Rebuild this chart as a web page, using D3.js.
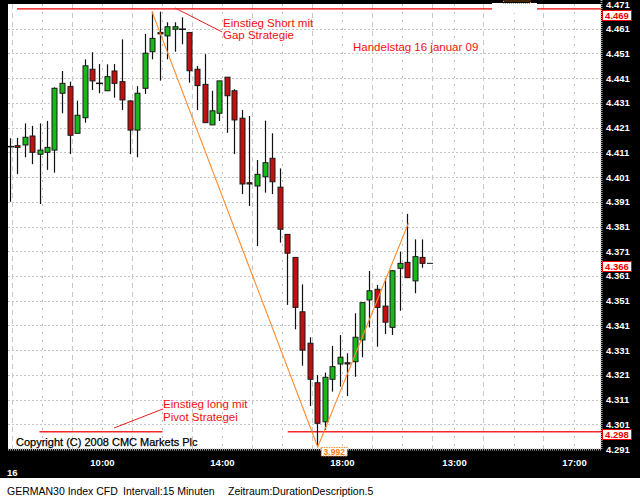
<!DOCTYPE html>
<html>
<head>
<meta charset="utf-8">
<script src="https://cdn.jsdelivr.net/npm/d3@7"></script>
<style>
  html, body { margin: 0; padding: 0; background: #fff; }
  #chart { width: 640px; height: 500px; }
</style>
</head>
<body>
<div id="chart"></div>
<script>
// candle data, 15 minute bars
const opens  = [4.4133, 4.4137, 4.4140, 4.4176, 4.4102, 4.4110, 4.4119, 4.4349, 4.4376, 4.4187,
                4.4250, 4.4446, 4.4389, 4.4359, 4.4439, 4.4396, 4.4318, 4.4200, 4.4369, 4.4517,
                4.4595, 4.4581, 4.4608, 4.4608, 4.4595, 4.4446, 4.4385, 4.4221, 4.4268, 4.4414,
                4.4359, 4.4248, 4.3987, 4.3974, 4.4011, 4.4086, 4.3969, 4.3778, 4.3685, 4.3465,
                4.3338, 4.3178, 4.3020, 4.3192, 4.3254, 4.3259, 4.3263, 4.3351, 4.3513, 4.3556,
                4.3488, 4.3402, 4.3641, 4.3665, 4.3590, 4.3685];
const highs  = [4.4167, 4.4168, 4.4227, 4.4217, 4.4227, 4.4237, 4.4373, 4.4439, 4.4396, 4.4319,
                4.4486, 4.4515, 4.4467, 4.4466, 4.4467, 4.4567, 4.4320, 4.4378, 4.4589, 4.4679,
                4.4679, 4.4636, 4.4636, 4.4656, 4.4595, 4.4459, 4.4507, 4.4359, 4.4399, 4.4414,
                4.4365, 4.4281, 4.4257, 4.4079, 4.4238, 4.4187, 4.4045, 4.3778, 4.3685, 4.3576,
                4.3362, 4.3209, 4.3219, 4.3327, 4.3371, 4.3297, 4.3459, 4.3502, 4.3630, 4.3573,
                4.3600, 4.3634, 4.3708, 4.3861, 4.3758, 4.3758];
const lows   = [4.3910, 4.4022, 4.4090, 4.4062, 4.3901, 4.4039, 4.4028, 4.4268, 4.4103, 4.4187,
                4.4230, 4.4362, 4.4349, 4.4359, 4.4331, 4.4281, 4.4103, 4.4090, 4.4346, 4.4486,
                4.4400, 4.4486, 4.4517, 4.4547, 4.4392, 4.4281, 4.4230, 4.4221, 4.4237, 4.4189,
                4.4103, 4.3941, 4.3893, 4.3731, 4.3947, 4.3941, 4.3745, 4.3493, 4.3394, 4.3247,
                4.3084, 4.2926, 4.2987, 4.3142, 4.3162, 4.3124, 4.3202, 4.3281, 4.3402, 4.3324,
                4.3375, 4.3371, 4.3469, 4.3603, 4.3540, 4.3643];
const closes = [4.4133, 4.4130, 4.4171, 4.4110, 4.4119, 4.4130, 4.4369, 4.4389, 4.4179, 4.4260,
                4.4460, 4.4399, 4.4389, 4.4416, 4.4389, 4.4322, 4.4200, 4.4349, 4.4511, 4.4571,
                4.4589, 4.4618, 4.4618, 4.4608, 4.4440, 4.4380, 4.4230, 4.4278, 4.4399, 4.4339,
                4.4241, 4.3982, 4.3982, 4.4021, 4.4068, 4.3991, 4.3799, 4.3702, 4.3483, 4.3310,
                4.3192, 4.3014, 4.3200, 4.3243, 4.3281, 4.3254, 4.3362, 4.3502, 4.3550, 4.3483,
                4.3423, 4.3631, 4.3661, 4.3603, 4.3688, 4.3661];

// axis
const yTicks = d3.range(0, 19).map(k => +(4.291 + k * 0.01).toFixed(3));
const timeLabels = ["10:00", "14:00", "18:00", "13:00", "17:00"];
const timeSlots = [12.33, 28.33, 44.33, 59.27, 75.27];
const dashedSlots = [0.33, 8.33, 16.33, 24.33, 32.33, 40.33, 48.33, 56.33, 63.13, 71.13];
const dottedSlots = [4.33, 12.33, 20.33, 28.33, 36.33, 44.33, 52.33, 59.27, 67.27, 75.27];

// drawings on the chart
const shortLevel = 4.469;
const longLevel = 4.298;
const lastPrice = 4.366;
const fibPoints = [{ i: 19, v: 4.4679 }, { i: 41.1, v: 4.2918 }, { i: 53.2, v: 4.3824 }];
const fibLabel = "3.992";

const width = 640, height = 500;
const plot = { left: 8, top: 4, right: 601, bottom: 449 };
const font = "'Liberation Sans', Arial, sans-serif";

const svg = d3.select("#chart").append("svg")
  .attr("width", width)
  .attr("height", height)
  .attr("viewBox", `0 0 ${width} ${height}`);

svg.append("rect").attr("width", width).attr("height", 478).attr("fill", "#000");
svg.append("rect").attr("x", plot.left).attr("y", plot.top)
  .attr("width", plot.right - plot.left).attr("height", plot.bottom - plot.top)
  .attr("fill", "#fff");

const x = d3.scaleLinear().domain([0, 55]).range([9.5, 422]);
const y = d3.scaleLinear().domain([4.291, 4.471]).range([plot.bottom, plot.top]);

svg.append("clipPath").attr("id", "plot-clip")
  .append("rect").attr("x", plot.left).attr("y", plot.top)
  .attr("width", plot.right - plot.left).attr("height", plot.bottom - plot.top);

const g = svg.append("g").attr("clip-path", "url(#plot-clip)");

// grid
g.selectAll(".hgrid").data(yTicks.slice(1, -1)).enter().append("line")
  .attr("x1", plot.left).attr("x2", plot.right)
  .attr("y1", d => Math.round(y(d)) + 0.5).attr("y2", d => Math.round(y(d)) + 0.5)
  .attr("stroke", "#c4c4c4").attr("stroke-dasharray", "2,2");

g.selectAll(".vdash").data(dashedSlots).enter().append("line")
  .attr("x1", d => Math.round(x(d)) + 0.5).attr("x2", d => Math.round(x(d)) + 0.5)
  .attr("y1", plot.top).attr("y2", plot.bottom)
  .attr("stroke", "#c8c8c8").attr("stroke-dasharray", "5,4");

g.selectAll(".vdot").data(dottedSlots).enter().append("line")
  .attr("x1", d => Math.round(x(d)) + 0.5).attr("x2", d => Math.round(x(d)) + 0.5)
  .attr("y1", plot.top).attr("y2", plot.bottom)
  .attr("stroke", "#bdbdbd").attr("stroke-dasharray", "2,6");

// red levels
g.append("line")
  .attr("x1", x(1)).attr("x2", plot.right)
  .attr("y1", y(shortLevel)).attr("y2", y(shortLevel))
  .attr("stroke", "#ee0000").attr("stroke-width", 1.3);

[[4, 20.4], [37.1, 80]].forEach(seg => {
  g.append("line")
    .attr("x1", x(seg[0])).attr("x2", x(seg[1]))
    .attr("y1", y(longLevel)).attr("y2", y(longLevel))
    .attr("stroke", "#f02828").attr("stroke-width", 1.5);
});

// pointer lines to the notes
g.append("line")
  .attr("x1", x(22.07)).attr("y1", y(4.4694))
  .attr("x2", x(28.33)).attr("y2", y(4.4597))
  .attr("stroke", "#ee2020");
g.append("line")
  .attr("x1", x(13.93)).attr("y1", y(4.2995))
  .attr("x2", x(20.47)).attr("y2", y(4.3072))
  .attr("stroke", "#ee2020");

// candles
const candles = opens.map((o, i) => ({ i, o, h: highs[i], l: lows[i], c: closes[i] }));

g.selectAll(".wick").data(candles).enter().append("line")
  .attr("x1", d => Math.round(x(d.i)) + 0.5).attr("x2", d => Math.round(x(d.i)) + 0.5)
  .attr("y1", d => y(d.h)).attr("y2", d => y(d.l))
  .attr("stroke", "#111").attr("stroke-width", 1.2);

g.selectAll(".body").data(candles.filter(d => Math.abs(d.o - d.c) >= 0.0002)).enter().append("rect")
  .attr("x", d => Math.round(x(d.i)) - 2)
  .attr("y", d => y(Math.max(d.o, d.c)))
  .attr("width", 5)
  .attr("height", d => Math.max(1, Math.abs(y(d.o) - y(d.c))))
  .attr("fill", d => d.c > d.o ? "#18b818" : "#c01010")
  .attr("stroke", "#1a1a1a").attr("stroke-width", 1);

g.selectAll(".doji").data(candles.filter(d => Math.abs(d.o - d.c) < 0.0002)).enter().append("line")
  .attr("x1", d => Math.round(x(d.i)) - 3).attr("x2", d => Math.round(x(d.i)) + 4)
  .attr("y1", d => y(d.c)).attr("y2", d => y(d.c))
  .attr("stroke", "#111").attr("stroke-width", 1.5);

// last price tick
g.append("line")
  .attr("x1", x(55) + 5).attr("x2", x(55) + 11)
  .attr("y1", y(closes[closes.length - 1])).attr("y2", y(closes[closes.length - 1]))
  .attr("stroke", "#111");

// orange trend lines
g.append("path")
  .datum(fibPoints)
  .attr("fill", "none")
  .attr("stroke", "#ff8a2a")
  .attr("stroke-width", 1.1)
  .attr("d", d3.line().x(d => x(d.i)).y(d => y(d.v)));

// notes
function note(lines, i, v, dy) {
  const t = g.append("text")
    .attr("x", x(i)).attr("y", y(v))
    .attr("fill", "#f01010")
    .style("font-family", font).style("font-size", "11.5px");
  lines.forEach((s, k) => {
    t.append("tspan").attr("x", x(i)).attr("dy", k === 0 ? 0 : dy).text(s);
  });
}
note(["Einstieg Short mit", "Gap Strategie"], 28.47, 4.4617, 12.5);
note(["Handelstag 16 januar 09"], 45.8, 4.4520, 0);
note(["Einstieg long mit", "Pivot Strategei"], 20.47, 4.3076, 13);

g.append("text")
  .attr("x", 16).attr("y", 446)
  .attr("fill", "#000")
  .attr("stroke", "#000").attr("stroke-width", 0.25)
  .style("font-family", font).style("font-size", "11px")
  .text("Copyright (C) 2008 CMC Markets Plc");

// time axis
const xAxis = svg.append("g")
  .attr("transform", `translate(0,${plot.bottom})`)
  .call(d3.axisBottom(x).tickValues(timeSlots).tickSize(0).tickPadding(10)
    .tickFormat((d, i) => timeLabels[i]));
xAxis.select(".domain").remove();
xAxis.selectAll("text")
  .attr("fill", "#fff")
  .style("font-family", font).style("font-size", "9.5px").style("font-weight", "bold");

// the half hidden box at the top
svg.append("rect").attr("x", 492).attr("y", 3).attr("width", 45).attr("height", 10).attr("fill", "#fff");
svg.append("rect").attr("x", 503.5).attr("y", 1).attr("width", 27).attr("height", 2.5)
  .attr("fill", "none").attr("stroke", "#ff8a2a").attr("stroke-dasharray", "1,1");

// plot border
svg.append("line").attr("x1", plot.left).attr("x2", plot.right + 1)
  .attr("y1", plot.bottom + 0.5).attr("y2", plot.bottom + 0.5)
  .attr("stroke", "#aaa").attr("stroke-width", 2).attr("stroke-dasharray", "1,1");
svg.append("line").attr("x1", plot.right + 0.5).attr("x2", plot.right + 0.5)
  .attr("y1", 0).attr("y2", plot.bottom + 1)
  .attr("stroke", "#aaa").attr("stroke-width", 2).attr("stroke-dasharray", "1,1");

// label at the low of the orange lines, drawn over the border
const fibBox = svg.append("g")
  .attr("transform", `translate(${x(fibPoints[1].i) + 3},${y(fibPoints[1].v)})`);
fibBox.append("rect").attr("x", 0.5).attr("y", 0.5).attr("width", 26).attr("height", 8.5)
  .attr("fill", "#fff").attr("stroke", "#ff8a2a").attr("stroke-dasharray", "1.5,1");
fibBox.append("text").attr("x", 13.5).attr("y", 8).attr("text-anchor", "middle")
  .attr("fill", "#ff7a10").style("font-family", font).style("font-size", "8.5px")
  .style("font-weight", "bold").text(fibLabel);

// price axis
const yAxis = svg.append("g")
  .attr("transform", `translate(${plot.right},0)`)
  .call(d3.axisRight(y).tickValues(yTicks).tickSize(0).tickPadding(5).tickFormat(d3.format(".3f")));
yAxis.select(".domain").remove();
yAxis.selectAll("text")
  .attr("fill", "#fff")
  .style("font-family", font).style("font-size", "9.5px").style("font-weight", "bold");

svg.append("text").attr("x", 7).attr("y", 476)
  .attr("fill", "#fff")
  .style("font-family", font).style("font-size", "9.5px").style("font-weight", "bold")
  .text("16");

// price boxes
[shortLevel, lastPrice, longLevel].forEach(v => {
  const cy = Math.max(y(v), 13);
  const b = svg.append("g").attr("transform", `translate(${plot.right + 1},${Math.round(cy) - 3})`);
  b.append("rect").attr("x", 0.5).attr("y", 0.5).attr("width", 29).attr("height", 10)
    .attr("fill", "#fff").attr("stroke", "#ee0000");
  b.append("text").attr("x", 15).attr("y", 9).attr("text-anchor", "middle")
    .attr("fill", "#ee0000")
    .style("font-family", font).style("font-size", "9.5px").style("font-weight", "bold")
    .text(d3.format(".3f")(v));
});

// caption under the chart
[["GERMAN30 Index CFD", 7], ["Intervall:15 Minuten", 123], ["Zeitraum:DurationDescription.5", 228]]
  .forEach(c => {
    svg.append("text").attr("x", c[1]).attr("y", 495)
      .attr("fill", "#000")
      .style("font-family", font).style("font-size", "10.5px")
      .text(c[0]);
  });
</script>
</body>
</html>
